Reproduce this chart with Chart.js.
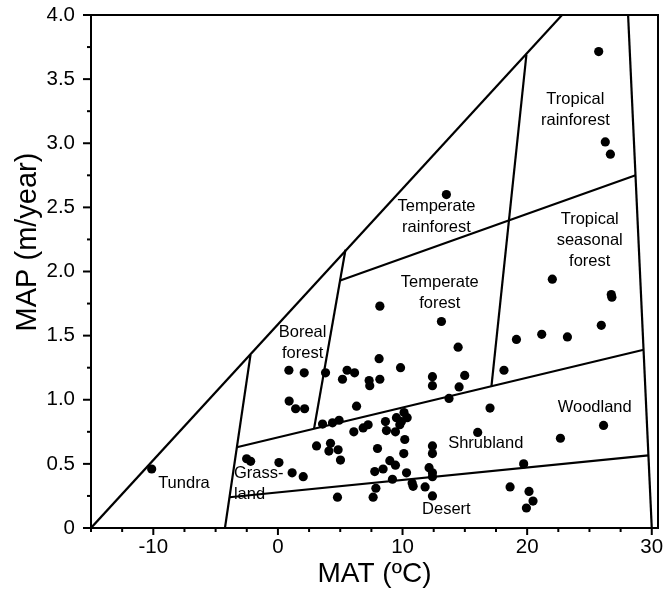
<!DOCTYPE html>
<html>
<head>
<meta charset="utf-8">
<script src="https://cdn.jsdelivr.net/npm/chart.js@4.4.0/dist/chart.umd.min.js"></script>
<style>
html,body{margin:0;padding:0;background:#fff;}
#wrap{width:663px;height:592px;}
</style>
</head>
<body>
<div id="wrap"><canvas id="c" width="663" height="592"></canvas></div>
<script>
// ---- site data: mean annual temperature (ºC) and mean annual precipitation (m/year)
const siteMAT = [-10.13, -2.51, -2.19, 0.08, 1.14, 2.03, 0.88, 2.11, 0.90, 1.42,
  2.14, 3.82, 5.18, 5.55, 6.15, 6.31, 3.58, 4.38, 4.91, 6.09,
  3.10, 4.22, 4.09, 4.83, 5.02, 4.78, 8.18, 13.12, 14.46, 8.12,
  9.84, 7.32, 7.37, 8.18, 12.40, 12.40, 14.54, 14.99, 13.73, 18.14,
  19.14, 21.17, 23.23, 25.95, 17.02, 26.13, 22.67, 16.03, 19.72, 18.63,
  20.15, 20.47, 19.94, 6.84, 7.24, 8.63, 8.71, 9.43, 9.51, 9.78,
  10.12, 10.37, 9.91, 10.18, 10.10, 7.99, 8.98, 9.43, 8.44, 7.77,
  10.32, 12.13, 12.40, 12.40, 12.40, 12.40, 9.19, 10.77, 10.85, 7.86,
  11.81, 12.40, 7.64, 25.74, 26.27, 26.68, 13.52, 22.02, 26.75, 26.80];
const siteMAP = [0.46, 0.54, 0.52, 0.51, 0.43, 0.40, 1.23, 1.21, 0.99, 0.93,
  0.93, 1.21, 1.16, 1.23, 1.21, 0.95, 0.81, 0.82, 0.84, 0.75,
  0.64, 0.66, 0.60, 0.61, 0.53, 0.24, 1.73, 1.61, 1.41, 1.32,
  1.25, 1.15, 1.11, 1.16, 1.18, 1.11, 1.10, 1.19, 1.01, 1.23,
  1.47, 1.51, 1.49, 1.58, 0.935, 0.80, 0.70, 0.745, 0.50, 0.32,
  0.285, 0.21, 0.156, 0.78, 0.805, 0.83, 0.76, 0.75, 0.86, 0.805,
  0.90, 0.86, 0.83, 0.69, 0.58, 0.62, 0.525, 0.49, 0.46, 0.44,
  0.43, 0.47, 0.43, 0.40, 0.64, 0.58, 0.38, 0.35, 0.325, 0.31,
  0.32, 0.25, 0.24, 3.715, 3.01, 2.915, 2.60, 1.94, 1.82, 1.80];

// ---- biome boundary lines (MAT, MAP end points)
const outerEdgeMAT = [-15, 22.8],      outerEdgeMAP = [0, 4.0];
const tundraEdgeMAT = [-4.25, -2.2],   tundraEdgeMAP = [0, 1.35];
const desertEdgeMAT = [-3.89, 29.73],  desertEdgeMAP = [0.24, 0.566];
const shrubEdgeMAT = [-3.3, 29.35],    shrubEdgeMAP = [0.63, 1.39];
const borealEdgeMAT = [5.42, 2.9],     borealEdgeMAP = [2.17, 0.775];
const rainEdgeMAT = [5.0, 28.7],       rainEdgeMAP = [1.93, 2.75];
const tropicEdgeMAT = [19.94, 17.13],  tropicEdgeMAP = [3.69, 1.10];
const warmEdgeMAT = [28.1, 30.0],      warmEdgeMAP = [4.0, 0];

// ---- tick labels
const xTickLabels = ['-10', '0', '10', '20', '30'];
const yTickLabels = ['0', '0.5', '1.0', '1.5', '2.0', '2.5', '3.0', '3.5', '4.0'];

// ---- region names
const regionNames = [
  ['Tropical', 'rainforest'], ['Temperate', 'rainforest'], ['Tropical', 'seasonal', 'forest'],
  ['Temperate', 'forest'], ['Boreal', 'forest'], ['Woodland'], ['Shrubland'], ['Desert'],
  ['Tundra'], ['Grass-', 'land']
];
// anchor (MAT, MAP) of first line for each region name
const regionAnchors = [
  {x: 23.87, y: 3.339, align: 'center'}, {x: 12.72, y: 2.507, align: 'center'},
  {x: 25.02, y: 2.403, align: 'center'}, {x: 12.99, y: 1.914, align: 'center'},
  {x: 1.98, y: 1.528, align: 'center'}, {x: 25.42, y: 0.943, align: 'center'},
  {x: 16.68, y: 0.657, align: 'center'}, {x: 13.52, y: 0.143, align: 'center'},
  {x: -7.54, y: 0.345, align: 'center'}, {x: -3.53, y: 0.423, align: 'left'}
];

const FONT = "'Liberation Sans', Arial, Helvetica, sans-serif";

function pairs(xs, ys) { return xs.map((v, i) => ({x: v, y: ys[i]})); }
function isMult(v, s) { return Math.abs(v / s - Math.round(v / s)) < 1e-6; }

const lineStyle = {showLine: true, pointRadius: 0, borderColor: '#000', borderWidth: 2.2, fill: false, tension: 0};
const boundaries = [
  [outerEdgeMAT, outerEdgeMAP], [tundraEdgeMAT, tundraEdgeMAP], [desertEdgeMAT, desertEdgeMAP],
  [shrubEdgeMAT, shrubEdgeMAP], [borealEdgeMAT, borealEdgeMAP], [rainEdgeMAT, rainEdgeMAP],
  [tropicEdgeMAT, tropicEdgeMAP], [warmEdgeMAT, warmEdgeMAP]
];

const datasets = [{
  label: 'sites',
  data: pairs(siteMAT, siteMAP),
  pointRadius: 4.6,
  pointBackgroundColor: '#000',
  pointBorderWidth: 0,
  showLine: false
}].concat(boundaries.map((b, i) => Object.assign({label: 'b' + i, data: pairs(b[0], b[1])}, lineStyle)));

const decor = {
  id: 'decor',
  afterDraw(chart) {
    const ctx = chart.ctx, xs = chart.scales.x, ys = chart.scales.y, a = chart.chartArea;
    ctx.save();
    ctx.strokeStyle = '#000';
    ctx.lineWidth = 2;
    ctx.lineCap = 'butt';
    // frame top/right
    ctx.beginPath();
    ctx.moveTo(a.left - 1, a.top);
    ctx.lineTo(a.right, a.top);
    ctx.lineTo(a.right, a.bottom + 1);
    ctx.stroke();
    // ticks
    xs.ticks.forEach(t => {
      const p = xs.getPixelForValue(t.value);
      const len = isMult(t.value, 10) ? 7 : 4;
      ctx.beginPath(); ctx.moveTo(p, xs.top); ctx.lineTo(p, xs.top + len); ctx.stroke();
    });
    ys.ticks.forEach(t => {
      const p = ys.getPixelForValue(t.value);
      const len = isMult(t.value, 0.5) ? 8 : 4;
      ctx.beginPath(); ctx.moveTo(ys.right, p); ctx.lineTo(ys.right - len, p); ctx.stroke();
    });
    // region names
    ctx.fillStyle = '#000';
    ctx.font = '16.5px ' + FONT;
    ctx.textBaseline = 'middle';
    regionNames.forEach((lines, i) => {
      const an = regionAnchors[i];
      const px = xs.getPixelForValue(an.x), py = ys.getPixelForValue(an.y);
      ctx.textAlign = an.align;
      lines.forEach((s, k) => ctx.fillText(s, px, py + k * 21));
    });
    // y axis title
    ctx.font = '29px ' + FONT;
    ctx.textAlign = 'center';
    ctx.translate(28, ys.getPixelForValue(2.23));
    ctx.rotate(-Math.PI / 2);
    ctx.fillText('MAP (m/year)', 0, 0);
    ctx.restore();
  }
};

new Chart(document.getElementById('c'), {
  type: 'scatter',
  data: {datasets},
  options: {
    responsive: false,
    devicePixelRatio: 1,
    animation: false,
    layout: {padding: {top: 15, right: 5, left: 0, bottom: 0}},
    plugins: {legend: {display: false}, tooltip: {enabled: false}},
    scales: {
      x: {
        type: 'linear', min: -15, max: 30.5,
        afterBuildTicks: s => { const t = []; for (let v = -15; v <= 30.001; v += 2.5) t.push({value: v}); s.ticks = t; },
        afterFit: s => { s.height = 64; s.paddingLeft = 0; s.paddingRight = 0; },
        ticks: {
          autoSkip: false, maxRotation: 0, color: '#000', padding: 7,
          font: {family: FONT, size: 20.5},
          callback: v => { const i = [-10, 0, 10, 20, 30].findIndex(m => Math.abs(m - v) < 1e-6); return i >= 0 ? xTickLabels[i] : ''; }
        },
        grid: {display: false, drawTicks: false},
        border: {display: true, color: '#000', width: 2},
        title: {display: true, text: 'MAT (ºC)', color: '#000', font: {family: FONT, size: 28}, padding: {top: 0, bottom: 1}}
      },
      y: {
        type: 'linear', min: 0, max: 4,
        afterBuildTicks: s => { const t = []; for (let v = 0; v <= 4.001; v += 0.25) t.push({value: v}); s.ticks = t; },
        afterFit: s => { s.width = 91; s.paddingTop = 0; s.paddingBottom = 0; },
        ticks: {
          autoSkip: false, color: '#000', padding: 16,
          font: {family: FONT, size: 20.5},
          callback: v => isMult(v, 0.5) ? yTickLabels[Math.round(v / 0.5)] : ''
        },
        grid: {display: false, drawTicks: false},
        border: {display: true, color: '#000', width: 2}
      }
    }
  },
  plugins: [decor]
});
</script>
</body>
</html>
